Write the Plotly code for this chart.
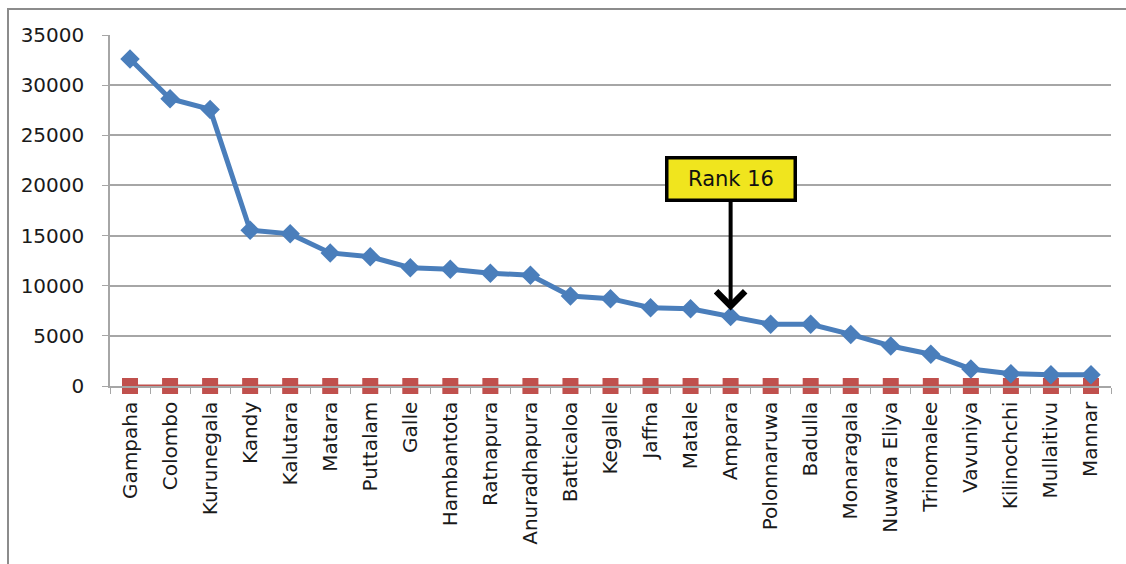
import plotly.graph_objects as go

districts = [
    "Gampaha", "Colombo", "Kurunegala", "Kandy", "Kalutara", "Matara",
    "Puttalam", "Galle", "Hambantota", "Ratnapura", "Anuradhapura",
    "Batticaloa", "Kegalle", "Jaffna", "Matale", "Ampara", "Polonnaruwa",
    "Badulla", "Monaragala", "Nuwara Eliya", "Trinomalee", "Vavuniya",
    "Kilinochchi", "Mullaitivu", "Mannar",
]
counts = [
    32600, 28650, 27580, 15530, 15170, 13270, 12880, 11800, 11640, 11250,
    11050, 8980, 8710, 7800, 7700, 6940, 6160, 6160, 5140, 3990, 3170,
    1700, 1230, 1130, 1130,
]
baseline = [0] * len(districts)
y_ticks = [0, 5000, 10000, 15000, 20000, 25000, 30000, 35000]

highlight_index = 15
highlight_text = "Rank 16"

W, H = 1126, 564
left, right, top, bottom = 110, 15, 35, 177.5
plot_w = W - left - right
plot_h = H - top - bottom

font_family = "DejaVu Sans"
grid_col = "#A6A6A6"

fig = go.Figure()
fig.add_trace(go.Scatter(
    x=districts, y=baseline, mode="lines+markers",
    line=dict(color="#C0504D", width=3),
    marker=dict(symbol="square", size=16, color="#C0504D"),
    cliponaxis=False, showlegend=False, hoverinfo="skip",
))
fig.add_trace(go.Scatter(
    x=districts, y=counts, mode="lines+markers",
    line=dict(color="#4A7EBB", width=5),
    marker=dict(symbol="diamond", size=15, color="#4A7EBB"),
    cliponaxis=False, showlegend=False,
))

fig.add_annotation(
    x=districts[highlight_index], y=counts[highlight_index],
    xref="x", yref="y",
    text=highlight_text, showarrow=True,
    ax=0, ay=-137,
    arrowhead=4, arrowsize=1.4, arrowwidth=4, arrowcolor="#000000",
    standoff=6,
    bgcolor="#F0E51E", bordercolor="#000000", borderwidth=3.5, borderpad=0,
    width=125, height=39,
    font=dict(family=font_family, size=21, color="#111111"),
)

# outer chart-area frame
fig.add_shape(
    type="rect", xref="paper", yref="paper",
    x0=(8 - left) / plot_w, x1=1.2,
    y0=-0.7, y1=1 + (top - 9) / plot_h,
    line=dict(color="#8C8C8C", width=2), fillcolor="rgba(0,0,0,0)",
    layer="below",
)

fig.update_layout(
    width=W, height=H,
    margin=dict(l=left, r=right, t=top, b=bottom, pad=0),
    paper_bgcolor="white", plot_bgcolor="white",
    font=dict(family=font_family, size=20, color="#1A1A1A"),
    xaxis=dict(
        type="category", tickangle=-90, tickson="boundaries",
        ticks="outside", ticklen=6, tickcolor=grid_col,
        showline=True, linecolor=grid_col, linewidth=1.5,
        showgrid=False, range=[-0.5, len(districts) - 0.5],
        tickfont=dict(size=20), ticklabelstandoff=6,
    ),
    yaxis=dict(
        range=[0, 35000], tickvals=y_ticks,
        ticktext=[str(v) for v in y_ticks],
        ticks="outside", ticklen=6, tickcolor=grid_col,
        showline=True, linecolor=grid_col, linewidth=1.5,
        showgrid=True, gridcolor=grid_col, gridwidth=1.5,
        zeroline=False, ticklabelstandoff=14,
        tickfont=dict(size=20),
    ),
)

fig.write_html("out.html")
